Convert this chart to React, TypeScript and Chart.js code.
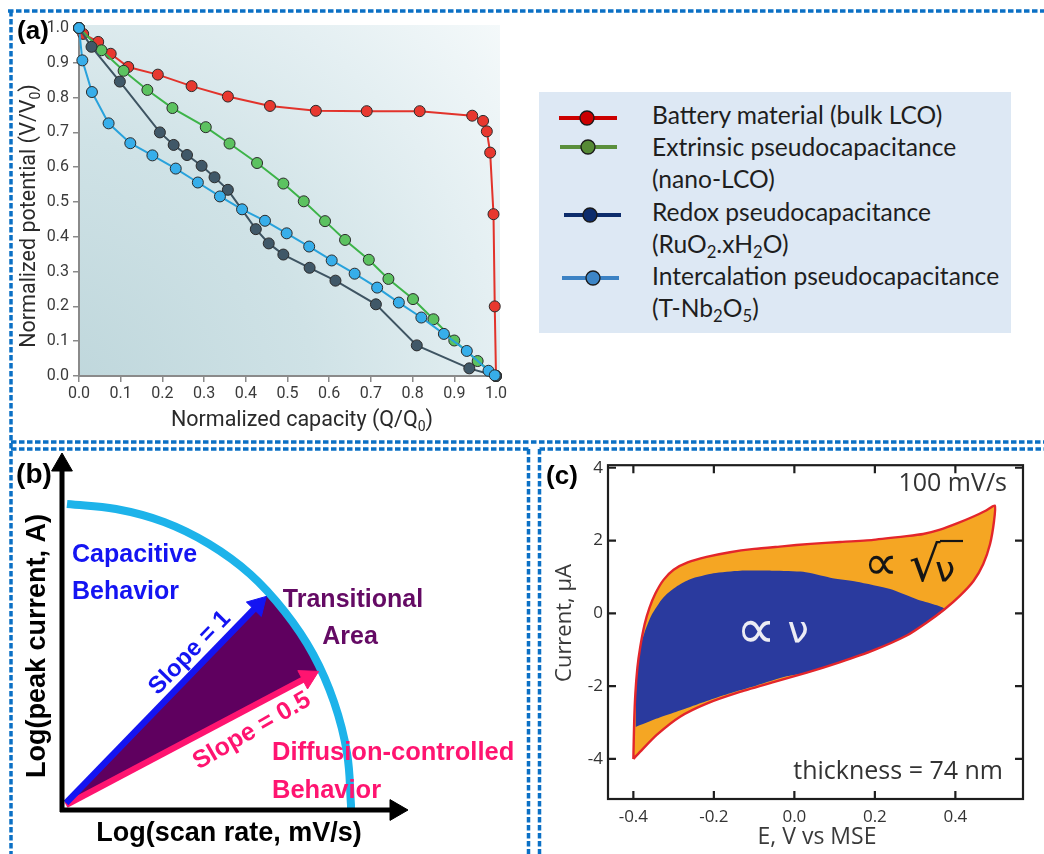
import React, { useEffect, useRef } from 'react';
import { Chart, registerables } from 'chart.js';

Chart.register(...registerables);

// ---------------- Panel (a): normalized discharge curves ----------------
const ticksA = [0, 0.1, 0.2, 0.3, 0.4, 0.5, 0.6, 0.7, 0.8, 0.9, 1.0];

const batteryQ = [0, 0.010, 0.046, 0.076, 0.118, 0.189, 0.270, 0.357, 0.458, 0.568, 0.690, 0.817, 0.943, 0.969, 0.978, 0.986, 0.994, 0.997, 1.0];
const batteryV = [1, 0.983, 0.960, 0.926, 0.888, 0.866, 0.833, 0.803, 0.776, 0.762, 0.761, 0.761, 0.748, 0.733, 0.703, 0.642, 0.465, 0.200, 0.0];

const extrinsicQ = [0, 0.054, 0.107, 0.164, 0.224, 0.304, 0.361, 0.427, 0.490, 0.539, 0.590, 0.638, 0.695, 0.742, 0.801, 0.850, 0.900, 0.956, 1.0];
const extrinsicV = [1, 0.936, 0.877, 0.822, 0.770, 0.715, 0.668, 0.612, 0.553, 0.502, 0.445, 0.391, 0.334, 0.279, 0.221, 0.163, 0.102, 0.043, 0.0];

const redoxQ = [0, 0.030, 0.098, 0.194, 0.227, 0.259, 0.294, 0.325, 0.357, 0.424, 0.455, 0.490, 0.553, 0.615, 0.712, 0.810, 0.936, 1.0];
const redoxV = [1, 0.946, 0.846, 0.700, 0.664, 0.635, 0.604, 0.571, 0.535, 0.422, 0.381, 0.349, 0.311, 0.274, 0.206, 0.088, 0.022, 0.0];

const intercalationQ = [0, 0.008, 0.031, 0.071, 0.123, 0.176, 0.232, 0.285, 0.338, 0.391, 0.446, 0.498, 0.552, 0.606, 0.661, 0.715, 0.767, 0.821, 0.875, 0.930, 0.982, 0.997];
const intercalationV = [1, 0.907, 0.816, 0.726, 0.669, 0.634, 0.596, 0.556, 0.516, 0.479, 0.446, 0.410, 0.372, 0.332, 0.294, 0.254, 0.211, 0.168, 0.121, 0.072, 0.015, 0.002];

// ---------------- Panel (b): schematic (units: diagram pixels from axis corner) ----------------
const yAxisX = [0, 0];
const yAxisY = [-2, 345];
const xAxisX = [-2, 334];
const xAxisY = [0, 0];
const capacitiveArrowX = [4, 196];
const capacitiveArrowY = [7, 205];
const diffusionArrowX = [4, 246];
const diffusionArrowY = [5, 133];
const boundaryArcX = [5, 54, 102, 147, 188, 223, 251, 272, 285, 289, 289];
const boundaryArcY = [306, 301, 288, 266, 236, 198, 156, 108, 57, 5, 2];
const transitionX = [4, 205, 223, 238, 251, 257];
const transitionY = [7, 214, 198, 178, 156, 139];

// ---------------- Panel (c): cyclic voltammogram ----------------
const cvTicksE = [-0.4, -0.2, 0, 0.2, 0.4];
const cvTicksI = [-4, -2, 0, 2, 4];

const cvTotalE = [-0.400, -0.398, -0.395, -0.390, -0.383, -0.372, -0.360, -0.345, -0.325, -0.300, -0.265, -0.218, -0.160, -0.100, -0.030, 0.040, 0.114, 0.196, 0.279, 0.320, 0.362, 0.404, 0.445, 0.475, 0.498,
  0.496, 0.486, 0.469, 0.445, 0.411, 0.374, 0.329, 0.279, 0.196, 0.114, 0.031, -0.052, -0.135, -0.218, -0.284, -0.342, -0.383, -0.400];
const cvTotalI = [-4.00, -3.00, -2.20, -1.50, -0.93, -0.30, 0.15, 0.55, 0.92, 1.20, 1.40, 1.55, 1.68, 1.77, 1.84, 1.91, 1.96, 2.02, 2.12, 2.18, 2.30, 2.47, 2.66, 2.82, 2.96,
  2.53, 1.90, 1.35, 0.89, 0.48, 0.12, -0.25, -0.61, -1.02, -1.34, -1.63, -1.89, -2.16, -2.48, -2.84, -3.34, -3.80, -4.00];

const cvCapacitiveE = [-0.394, -0.392, -0.383, -0.370, -0.355, -0.335, -0.317, -0.290, -0.259, -0.201, -0.135, -0.052, 0.022, 0.089, 0.155, 0.238, 0.304, 0.374,
  0.329, 0.279, 0.196, 0.114, 0.031, -0.019, -0.094, -0.176, -0.259, -0.342, -0.394];
const cvCapacitiveI = [-3.12, -1.66, -0.93, -0.45, -0.05, 0.30, 0.53, 0.76, 0.94, 1.10, 1.17, 1.17, 1.14, 0.98, 0.87, 0.67, 0.39, 0.12,
  -0.25, -0.61, -1.02, -1.34, -1.63, -1.73, -1.98, -2.25, -2.57, -2.89, -3.12];

// ---------------- helpers ----------------
const zip = (xs: number[], ys: number[]) => xs.map((x, i) => ({ x, y: ys[i] }));

type Part = { t: string; sub?: boolean };
type Label = {
  parts: string | Part[];
  x: number;
  y: number;
  size: number;
  family: string;
  weight?: string;
  color: string;
  align?: 'left' | 'center' | 'right';
  rotate?: number;
};

function drawLabels(ctx: CanvasRenderingContext2D, labels: Label[]) {
  labels.forEach((l) => {
    const parts: Part[] = typeof l.parts === 'string' ? [{ t: l.parts }] : l.parts;
    ctx.save();
    ctx.translate(l.x, l.y);
    if (l.rotate) ctx.rotate((l.rotate * Math.PI) / 180);
    ctx.fillStyle = l.color;
    ctx.textBaseline = 'middle';
    ctx.textAlign = 'left';
    const font = (p: Part) => `${l.weight || 'normal'} ${p.sub ? Math.round(l.size * 0.65) : l.size}px ${l.family}`;
    const widths = parts.map((p) => {
      ctx.font = font(p);
      return ctx.measureText(p.t).width;
    });
    const total = widths.reduce((a, b) => a + b, 0);
    let x = l.align === 'left' ? 0 : l.align === 'right' ? -total : -total / 2;
    parts.forEach((p, i) => {
      ctx.font = font(p);
      ctx.fillText(p.t, x, p.sub ? l.size * 0.32 : 0);
      x += widths[i];
    });
    ctx.restore();
  });
}

const textPlugin = (id: string, labels: Label[]) => ({
  id,
  afterDraw(chart: any) {
    drawLabels(chart.ctx, labels);
  },
});

const SANS_A = 'Roboto';
const BOLD = '"Liberation Sans"';
const SANS_C = '"Open Sans"';

const labelsA: Label[] = [
  { parts: '(a)', x: 33, y: 32, size: 26, family: BOLD, weight: 'bold', color: '#000' },
  { parts: [{ t: 'Normalized potential (V/V' }, { t: '0', sub: true }, { t: ')' }], x: 30, y: 216, size: 21.5, family: SANS_A, color: '#2a2a2a', rotate: -90 },
  { parts: [{ t: 'Normalized capacity (Q/Q' }, { t: '0', sub: true }, { t: ')' }], x: 302, y: 421, size: 21.5, family: SANS_A, color: '#2a2a2a' },
];

const BLUE_B = '#1414f2';
const PINK_B = '#ff1470';
const PURPLE_T = '#640a64';

const labelsB: Label[] = [
  { parts: '(b)', x: 22, y: 25, size: 28, family: BOLD, weight: 'bold', color: '#000' },
  { parts: 'Log(peak current, A)', x: 26, y: 196, size: 27, family: BOLD, weight: 'bold', color: '#000', rotate: -90 },
  { parts: 'Log(scan rate, mV/s)', x: 217, y: 384, size: 27, family: BOLD, weight: 'bold', color: '#000' },
  { parts: 'Capacitive', x: 60, y: 105, size: 25, family: BOLD, weight: 'bold', color: BLUE_B, align: 'left' },
  { parts: 'Behavior', x: 60, y: 142, size: 25, family: BOLD, weight: 'bold', color: BLUE_B, align: 'left' },
  { parts: 'Transitional', x: 341, y: 150, size: 25, family: BOLD, weight: 'bold', color: PURPLE_T },
  { parts: 'Area', x: 338, y: 187, size: 25, family: BOLD, weight: 'bold', color: PURPLE_T },
  { parts: 'Diffusion-controlled', x: 260, y: 303, size: 25.5, family: BOLD, weight: 'bold', color: PINK_B, align: 'left' },
  { parts: 'Behavior', x: 260, y: 341, size: 25.5, family: BOLD, weight: 'bold', color: PINK_B, align: 'left' },
  { parts: 'Slope = 1', x: 178, y: 203, size: 24, family: BOLD, weight: 'bold', color: BLUE_B, rotate: -45.9 },
  { parts: 'Slope = 0.5', x: 240, y: 281, size: 25, family: BOLD, weight: 'bold', color: PINK_B, rotate: -30 },
];

const labelsC: Label[] = [
  { parts: '(c)', x: 21, y: 27, size: 26, family: BOLD, weight: 'bold', color: '#000' },
  { parts: '100 mV/s', x: 466, y: 34, size: 25, family: SANS_C, color: '#333', align: 'right' },
  { parts: 'thickness = 74 nm', x: 462, y: 322, size: 25, family: SANS_C, color: '#333', align: 'right' },
  { parts: 'Current, μA', x: 24, y: 173, size: 22, family: SANS_C, color: '#3a3a3a', rotate: -90 },
  { parts: 'E, V vs MSE', x: 276, y: 387, size: 23, family: SANS_C, color: '#3a3a3a' },
  { parts: '∝', x: 340, y: 117, size: 48, family: '"DejaVu Sans"', color: '#151515' },
  { parts: '∝', x: 215, y: 183, size: 56, family: '"DejaVu Sans"', color: '#ececf4' },
];

// radical with vinculum and the Greek nu letters in panel (c)
const greekPlugin = {
  id: 'greek',
  afterDraw(chart: any) {
    const ctx: CanvasRenderingContext2D = chart.ctx;
    ctx.save();
    ctx.fillStyle = '#151515';
    ctx.textAlign = 'left';
    ctx.textBaseline = 'alphabetic';
    ctx.font = '40px "DejaVu Sans"';
    const m = ctx.measureText('√');
    const h = m.actualBoundingBoxAscent + m.actualBoundingBoxDescent;
    const size = (40 * 42) / h;
    ctx.font = `${size}px "DejaVu Sans"`;
    const m2 = ctx.measureText('√');
    const left = 369 + m2.actualBoundingBoxLeft;
    const base = 90 + m2.actualBoundingBoxAscent;
    ctx.fillText('√', left, base);
    const rightX = left + m2.actualBoundingBoxRight;
    ctx.strokeStyle = '#151515';
    ctx.lineWidth = 2.2;
    ctx.beginPath();
    ctx.moveTo(rightX - 1, 91);
    ctx.lineTo(422, 91);
    ctx.stroke();
    ctx.textAlign = 'center';
    ctx.font = '36px "DejaVu Sans"';
    ctx.fillText('ν', 404, 132);
    ctx.fillStyle = '#ececf4';
    ctx.font = '38px "DejaVu Sans"';
    ctx.fillText('ν', 257, 193);
    ctx.restore();
  },
};

const gradientPlugin = {
  id: 'plotBg',
  beforeDraw(chart: any) {
    const { ctx, chartArea: a } = chart;
    const cx = a.left - 40;
    const cy = a.bottom + 40;
    const g = ctx.createRadialGradient(cx, cy, 0, cx, cy, 620);
    g.addColorStop(0, '#bcd5da');
    g.addColorStop(0.45, '#cfe2e6');
    g.addColorStop(0.75, '#e4eff2');
    g.addColorStop(1, '#f6fafb');
    ctx.save();
    ctx.fillStyle = g;
    ctx.fillRect(a.left, a.top - 3, a.right - a.left + 4, a.bottom - a.top + 3);
    ctx.restore();
  },
};

const cvFramePlugin = {
  id: 'cvFrame',
  afterDatasetsDraw(chart: any) {
    const { ctx, chartArea: a, scales } = chart;
    ctx.save();
    ctx.strokeStyle = '#1e1e1e';
    ctx.lineWidth = 2.2;
    ctx.strokeRect(a.left, a.top, a.right - a.left, a.bottom - a.top);
    ctx.beginPath();
    cvTicksE.forEach((v) => {
      const px = scales.x.getPixelForValue(v);
      ctx.moveTo(px, a.bottom);
      ctx.lineTo(px, a.bottom - 8);
      ctx.moveTo(px, a.top);
      ctx.lineTo(px, a.top + 8);
    });
    cvTicksI.forEach((v) => {
      const py = scales.y.getPixelForValue(v);
      ctx.moveTo(a.left, py);
      ctx.lineTo(a.left + 8, py);
      ctx.moveTo(a.right, py);
      ctx.lineTo(a.right - 8, py);
    });
    ctx.stroke();
    ctx.restore();
  },
};

const styleA = {
  battery: { line: '#e2332b', marker: '#e8382f', order: 3 },
  extrinsic: { line: '#3db449', marker: '#5cc260', order: 2 },
  redox: { line: '#3e5462', marker: '#405868', order: 1 },
  intercalation: { line: '#28a2dc', marker: '#37aeea', order: 0 },
};

const seriesDataset = (q: number[], v: number[], st: { line: string; marker: string; order: number }) => ({
  data: zip(q, v),
  showLine: true,
  borderColor: st.line,
  borderWidth: 2,
  pointRadius: 5.5,
  pointBackgroundColor: st.marker,
  pointBorderColor: '#2b2b2b',
  pointBorderWidth: 1,
  tension: 0,
  order: st.order,
  clip: false,
});

const arrowDataset = (xs: number[], ys: number[], color: string, width: number, headR: number, order: number) => {
  const dx = xs[1] - xs[0];
  const dy = ys[1] - ys[0];
  const rot = 90 - (Math.atan2(dy, dx) * 180) / Math.PI;
  return {
    data: zip(xs, ys),
    showLine: true,
    borderColor: color,
    borderWidth: width,
    borderCapStyle: 'butt',
    pointStyle: 'triangle',
    pointRadius: [0, headR],
    pointRotation: [0, rot],
    pointBackgroundColor: color,
    pointBorderColor: color,
    pointBorderWidth: 1,
    order,
    clip: false,
  };
};

export default function App() {
  const aRef = useRef<HTMLCanvasElement>(null);
  const bRef = useRef<HTMLCanvasElement>(null);
  const cRef = useRef<HTMLCanvasElement>(null);

  useEffect(() => {
    const tickFontA = { family: SANS_A, size: 16 };
    const chartA = new Chart(aRef.current as HTMLCanvasElement, {
      type: 'scatter',
      data: {
        datasets: [
          seriesDataset(batteryQ, batteryV, styleA.battery),
          seriesDataset(extrinsicQ, extrinsicV, styleA.extrinsic),
          seriesDataset(redoxQ, redoxV, styleA.redox),
          seriesDataset(intercalationQ, intercalationV, styleA.intercalation),
        ] as any,
      },
      options: {
        responsive: false,
        animation: false,
        events: [],
        layout: { autoPadding: false, padding: { left: 0, top: 28, right: 24, bottom: 0 } },
        plugins: { legend: { display: false }, tooltip: { enabled: false } },
        scales: {
          x: {
            type: 'linear',
            min: 0,
            max: 1,
            afterBuildTicks: (s: any) => { s.ticks = ticksA.map((v) => ({ value: v })); },
            afterFit: (s: any) => { s.height = 64; },
            ticks: { callback: (v: any) => Number(v).toFixed(1), color: '#3a3a3a', font: tickFontA, padding: 2, maxRotation: 0, autoSkip: false },
            grid: { drawOnChartArea: false, drawTicks: true, tickLength: 6, color: '#8a8a8a', lineWidth: 1.5 },
            border: { color: '#8a8a8a', width: 2 },
          },
          y: {
            type: 'linear',
            min: 0,
            max: 1,
            afterBuildTicks: (s: any) => { s.ticks = ticksA.map((v) => ({ value: v })); },
            afterFit: (s: any) => { s.width = 79; },
            ticks: { callback: (v: any) => Number(v).toFixed(1), color: '#3a3a3a', font: tickFontA, padding: 4, autoSkip: false },
            grid: { drawOnChartArea: false, drawTicks: true, tickLength: 6, color: '#8a8a8a', lineWidth: 1.5 },
            border: { color: '#8a8a8a', width: 2 },
          },
        },
      } as any,
      plugins: [gradientPlugin, textPlugin('labelsA', labelsA)],
    });

    const chartB = new Chart(bRef.current as HTMLCanvasElement, {
      type: 'scatter',
      data: {
        datasets: [
          {
            data: zip(transitionX, transitionY),
            showLine: true,
            fill: 'shape',
            backgroundColor: '#5f005f',
            borderColor: '#5f005f',
            borderWidth: 1,
            pointRadius: 0,
            order: 6,
          },
          {
            data: zip(boundaryArcX, boundaryArcY),
            showLine: true,
            borderColor: '#1db3ea',
            borderWidth: 8,
            tension: 0.4,
            pointRadius: 0,
            order: 5,
            clip: false,
          },
          arrowDataset(diffusionArrowX, diffusionArrowY, PINK_B, 6.5, 12, 4),
          arrowDataset(capacitiveArrowX, capacitiveArrowY, BLUE_B, 6.5, 12, 3),
          arrowDataset(yAxisX, yAxisY, '#000', 5, 12, 2),
          arrowDataset(xAxisX, xAxisY, '#000', 5, 12, 1),
        ] as any,
      },
      options: {
        responsive: false,
        animation: false,
        events: [],
        layout: { autoPadding: false, padding: 0 },
        plugins: { legend: { display: false }, tooltip: { enabled: false } },
        scales: {
          x: { type: 'linear', display: false, min: -50, max: 465 },
          y: { type: 'linear', display: false, min: -44, max: 360 },
        },
      } as any,
      plugins: [textPlugin('labelsB', labelsB)],
    });

    const tickFontC = { family: SANS_C, size: 17 };
    const chartC = new Chart(cRef.current as HTMLCanvasElement, {
      type: 'scatter',
      data: {
        datasets: [
          {
            data: zip(cvTotalE, cvTotalI),
            showLine: true,
            fill: 'shape',
            backgroundColor: '#f5a623',
            borderWidth: 0,
            borderColor: 'rgba(0,0,0,0)',
            pointRadius: 0,
            tension: 0.2,
            order: 3,
          },
          {
            data: zip(cvCapacitiveE, cvCapacitiveI),
            showLine: true,
            fill: 'shape',
            backgroundColor: '#2a3a9e',
            borderWidth: 0,
            borderColor: 'rgba(0,0,0,0)',
            pointRadius: 0,
            tension: 0.2,
            order: 2,
          },
          {
            data: zip(cvTotalE, cvTotalI),
            showLine: true,
            fill: false,
            borderColor: '#e3262b',
            borderWidth: 2.4,
            pointRadius: 0,
            tension: 0.2,
            order: 1,
          },
        ] as any,
      },
      options: {
        responsive: false,
        animation: false,
        events: [],
        layout: { autoPadding: false, padding: { left: 0, top: 14, right: 21, bottom: 0 } },
        plugins: { legend: { display: false }, tooltip: { enabled: false } },
        scales: {
          x: {
            type: 'linear',
            min: -0.463,
            max: 0.568,
            afterBuildTicks: (s: any) => { s.ticks = cvTicksE.map((v) => ({ value: v })); },
            afterFit: (s: any) => { s.height = 55; },
            ticks: { callback: (v: any) => Number(v).toFixed(1), color: '#333', font: tickFontC, padding: 8, maxRotation: 0, autoSkip: false },
            grid: { display: false, drawTicks: false },
            border: { display: false },
          },
          y: {
            type: 'linear',
            min: -5.1,
            max: 4.07,
            afterBuildTicks: (s: any) => { s.ticks = cvTicksI.map((v) => ({ value: v })); },
            afterFit: (s: any) => { s.width = 67; },
            ticks: { callback: (v: any) => String(v), color: '#333', font: tickFontC, padding: 5, autoSkip: false },
            grid: { display: false, drawTicks: false },
            border: { display: false },
          },
        },
      } as any,
      plugins: [cvFramePlugin, textPlugin('labelsC', labelsC), greekPlugin],
    });

    return () => {
      chartA.destroy();
      chartB.destroy();
      chartC.destroy();
    };
  }, []);

  const dash = { stroke: '#0b70c5', strokeWidth: 3.5, strokeDasharray: '5.5 2.5', fill: 'none' };
  const legendText: React.CSSProperties = { height: 32.2, whiteSpace: 'nowrap' };
  const sub: React.CSSProperties = { fontSize: '0.68em', verticalAlign: '-0.28em', lineHeight: 0 };

  return (
    <div style={{ position: 'absolute', left: 0, top: 0, width: 1044, height: 854, background: '#fff', overflow: 'hidden' }}>
      <canvas ref={aRef} width={520} height={440} style={{ position: 'absolute', left: 0, top: 0 }} />
      <canvas ref={bRef} width={515} height={404} style={{ position: 'absolute', left: 12, top: 450 }} />
      <canvas ref={cRef} width={503} height={404} style={{ position: 'absolute', left: 541, top: 450 }} />

      <div style={{ position: 'absolute', left: 539, top: 92, width: 472, height: 241, background: '#dde8f4' }}>
        <svg width={472} height={241} style={{ position: 'absolute', left: 0, top: 0 }}>
          <line x1={20} y1={26} x2={78} y2={26} stroke="#cc0000" strokeWidth={4} />
          <circle cx={48} cy={26} r={7} fill="#cc0000" stroke="#1a1a1a" strokeWidth={1.3} />
          <line x1={21} y1={55} x2={78} y2={55} stroke="#5a8f3c" strokeWidth={4} />
          <circle cx={49} cy={55} r={7} fill="#568a36" stroke="#1a1a1a" strokeWidth={1.3} />
          <line x1={25} y1={123} x2={82} y2={123} stroke="#0d2c6c" strokeWidth={4} />
          <circle cx={51} cy={123} r={7} fill="#0d2c6c" stroke="#1a1a1a" strokeWidth={1.3} />
          <line x1={23} y1={186} x2={80} y2={186} stroke="#3c82c4" strokeWidth={4} />
          <circle cx={54} cy={186} r={7} fill="#3d85c6" stroke="#1a1a1a" strokeWidth={1.3} />
        </svg>
        <div style={{ position: 'absolute', left: 113, top: 7, fontFamily: 'Lato', fontSize: 24.6, lineHeight: '32.2px', color: '#1e1e1e' }}>
          <div style={legendText}>Battery material (bulk LCO)</div>
          <div style={legendText}>Extrinsic pseudocapacitance</div>
          <div style={legendText}>(nano-LCO)</div>
          <div style={legendText}>Redox pseudocapacitance</div>
          <div style={legendText}>(RuO<span style={sub}>2</span>.xH<span style={sub}>2</span>O)</div>
          <div style={legendText}>Intercalation pseudocapacitance</div>
          <div style={legendText}>(T-Nb<span style={sub}>2</span>O<span style={sub}>5</span>)</div>
        </div>
      </div>

      <svg width={1044} height={854} style={{ position: 'absolute', left: 0, top: 0, pointerEvents: 'none' }}>
        <line x1={8} y1={11} x2={1044} y2={11} {...dash} />
        <line x1={11} y1={11} x2={11} y2={854} {...dash} />
        <line x1={11} y1={442} x2={1044} y2={442} {...dash} />
        <line x1={11} y1={449} x2={528.5} y2={449} {...dash} />
        <line x1={539.5} y1={449} x2={1044} y2={449} {...dash} />
        <line x1={528.5} y1={449} x2={528.5} y2={854} {...dash} />
        <line x1={539.5} y1={449} x2={539.5} y2={854} {...dash} />
      </svg>
    </div>
  );
}
